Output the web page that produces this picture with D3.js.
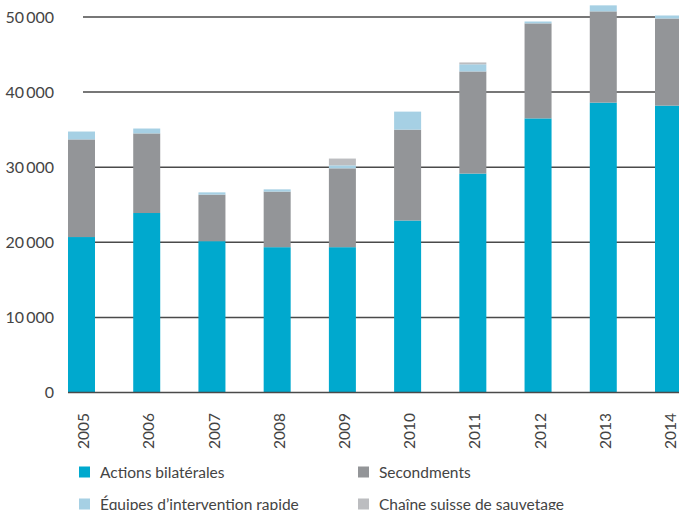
<!DOCTYPE html>
<html>
<head>
<meta charset="utf-8">
<script src="https://cdn.jsdelivr.net/npm/d3@7"></script>
<style>
  body { margin: 0; background: #fff; }
  text { font-family: Lato, "Open Sans", sans-serif; fill: #444; }
</style>
</head>
<body>
<div id="chart"></div>
<script>
// years on the x axis
const years = ["2005", "2006", "2007", "2008", "2009", "2010", "2011", "2012", "2013", "2014"];

// series values
const bilaterales = [20700, 23900, 20150, 19350, 19350, 22900, 29150, 36500, 38600, 38200];
const secondments = [13000, 10600, 6200, 7400, 10500, 12100, 13600, 12650, 12150, 11600];
const equipes = [1050, 650, 300, 300, 400, 2400, 950, 250, 800, 400];
const chaine = [0, 0, 0, 0, 900, 0, 250, 0, 0, 0];

const yTicks = [0, 10000, 20000, 30000, 40000, 50000];

const seriesNames = ["Actions bilatérales", "Secondments", "Équipes d’intervention rapide", "Chaîne suisse de sauvetage"];
const seriesColors = ["#00a9ce", "#939598", "#a6d0e4", "#bcbdc0"];

const W = 679, H = 510;

var svg = d3.select("#chart").append("svg")
    .attr("width", W)
    .attr("height", H);

var x = d3.scaleBand()
    .domain(years)
    .range([68, 682])
    .paddingInner(0.586)
    .paddingOuter(0);

var y = d3.scaleLinear()
    .domain([0, 50000])
    .range([392.5, 17]);

// build stack table
var table = years.map((yr, i) => ({
    year: yr,
    s0: bilaterales[i],
    s1: secondments[i],
    s2: equipes[i],
    s3: chaine[i]
}));
var stacked = d3.stack().keys(["s0", "s1", "s2", "s3"])(table);

// gridlines
svg.append("g")
    .selectAll("line")
    .data(yTicks.filter(d => d > 0))
    .join("line")
    .attr("x1", 83)
    .attr("x2", W)
    .attr("y1", d => y(d))
    .attr("y2", d => y(d))
    .attr("stroke", "#4a4a4a")
    .attr("stroke-width", 1.5);

// y tick labels
svg.append("g")
    .selectAll("text")
    .data(yTicks)
    .join("text")
    .attr("x", 54)
    .attr("y", d => y(d))
    .attr("dy", "0.36em")
    .attr("text-anchor", "end")
    .style("font-size", "16px")
    .text(d => d === 0 ? "0" : d3.format(",")(d).replace(",", "\u2009"));

// bars
svg.append("g")
    .selectAll("g")
    .data(stacked)
    .join("g")
    .attr("fill", (d, i) => seriesColors[i])
    .selectAll("rect")
    .data(d => d)
    .join("rect")
    .attr("x", d => x(d.data.year))
    .attr("width", x.bandwidth())
    .attr("y", d => y(d[1]))
    .attr("height", d => y(d[0]) - y(d[1]));

// baseline
svg.append("line")
    .attr("x1", 68)
    .attr("x2", W)
    .attr("y1", y(0))
    .attr("y2", y(0))
    .attr("stroke", "#4a4a4a")
    .attr("stroke-width", 1.5);

// year labels, rotated
svg.append("g")
    .selectAll("text")
    .data(years)
    .join("text")
    .attr("transform", d => `translate(${x(d) + x.bandwidth() / 2 + 2}, 413) rotate(-90)`)
    .attr("text-anchor", "end")
    .attr("dy", "0.36em")
    .style("font-size", "15.5px")
    .text(d => d);

// legend
var legendPos = [[79, 472], [358, 472], [79, 504], [358, 504]];
var legend = svg.append("g")
    .selectAll("g")
    .data(seriesNames)
    .join("g")
    .attr("transform", (d, i) => `translate(${legendPos[i][0]}, ${legendPos[i][1]})`);

legend.append("rect")
    .attr("x", 0)
    .attr("y", -5.5)
    .attr("width", 11)
    .attr("height", 11)
    .attr("fill", (d, i) => seriesColors[i]);

legend.append("text")
    .attr("x", 21)
    .attr("dy", "0.36em")
    .style("font-size", "15.5px")
    .text(d => d);
</script>
</body>
</html>
